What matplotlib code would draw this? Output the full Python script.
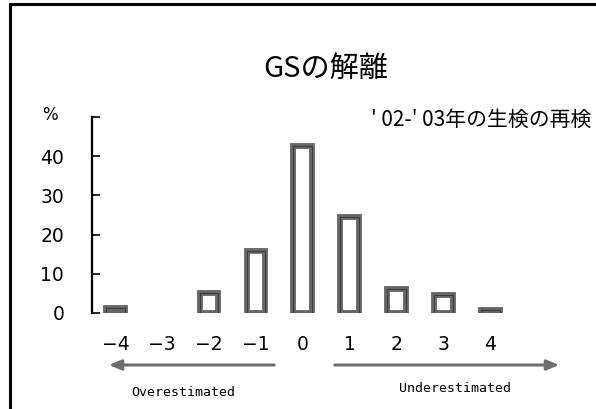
import matplotlib
matplotlib.use("Agg")
import matplotlib.pyplot as plt
from matplotlib.lines import Line2D
from matplotlib.patches import FancyArrowPatch

# ---- data ----
categories = [-4, -3, -2, -1, 0, 1, 2, 3, 4]
tick_labels = ["\u22124", "\u22123", "\u22122", "\u22121", "0", "1", "2", "3", "4"]
values = [1.2, 0.0, 5.0, 15.7, 42.7, 24.4, 6.0, 4.7, 0.8]
y_ticks = [0, 10, 20, 30, 40, 50]
y_tick_labels = ["0", "10", "20", "30", "40", ""]
title = "GSの解離"
subtitle = "' 02-' 03年の生検の再検"
left_label = "Overestimated"
right_label = "Underestimated"

W, H = 596, 409
fig = plt.figure(figsize=(W / 100, H / 100), dpi=100)

def fx(px):
    return px / W

def fy(py):
    return 1 - py / H

num_font = ["DejaVu Sans"]
jp_font = ["Noto Sans CJK JP", "DejaVu Sans"]

ax = fig.add_axes([fx(92), fy(313), (537 - 92) / W, (313 - 117) / H])
ax.set_xlim(-4.5, 5.0)
ax.set_ylim(0, 50)

# only non-zero bars are drawn
bx = [c for c, v in zip(categories, values) if v > 0]
bv = [v for v in values if v > 0]

# bars: thick grey border with thin dark outline, white fill
ax.bar(bx, bv, width=0.40, facecolor="white", edgecolor="#666666",
       linewidth=4.2, zorder=2)
ax.bar(bx, bv, width=0.40, facecolor="none", edgecolor="#333333",
       linewidth=0.6, zorder=3)

for s in ["top", "right", "bottom"]:
    ax.spines[s].set_visible(False)
ax.spines["left"].set_linewidth(1.6)
ax.spines["left"].set_color("black")

ax.set_yticks(y_ticks)
ax.set_yticklabels(y_tick_labels, fontfamily=num_font, fontsize=13.5)
ax.tick_params(axis="y", direction="in", length=6, width=1.2, pad=20)
ax.set_xticks(categories)
ax.set_xticklabels(tick_labels, fontfamily=num_font, fontsize=13.5)
ax.tick_params(axis="x", length=0, pad=16)

# % label
fig.text(fx(50), fy(115), "%", fontfamily=num_font, fontsize=12,
         ha="center", va="center")

# titles
fig.text(fx(326), fy(69), title, fontfamily=jp_font, fontsize=21,
         ha="center", va="center")
fig.text(fx(371), fy(120), subtitle, fontfamily=jp_font, fontsize=15,
         ha="left", va="center")

# arrows
arr_kw = dict(arrowstyle="-|>,head_length=0.6,head_width=0.25", color="#6e6e6e",
              linewidth=2.2, transform=fig.transFigure, mutation_scale=12)
fig.patches.append(FancyArrowPatch((fx(277), fy(365)), (fx(106), fy(365)), **arr_kw))
fig.patches.append(FancyArrowPatch((fx(332), fy(365)), (fx(562), fy(365)), **arr_kw))

fig.text(fx(183), fy(392), left_label, fontfamily="DejaVu Sans Mono", fontsize=9.5,
         ha="center", va="center")
fig.text(fx(455), fy(388), right_label, fontfamily="DejaVu Sans Mono", fontsize=9.5,
         ha="center", va="center")

# frame lines (top and left)
fig.add_artist(Line2D([fx(10), 1], [fy(4), fy(4)], color="black", linewidth=2.2,
                      transform=fig.transFigure))
fig.add_artist(Line2D([fx(10), fx(10)], [fy(4), 0], color="black", linewidth=2.2,
                      transform=fig.transFigure))

fig.savefig("out.png", dpi=100)
